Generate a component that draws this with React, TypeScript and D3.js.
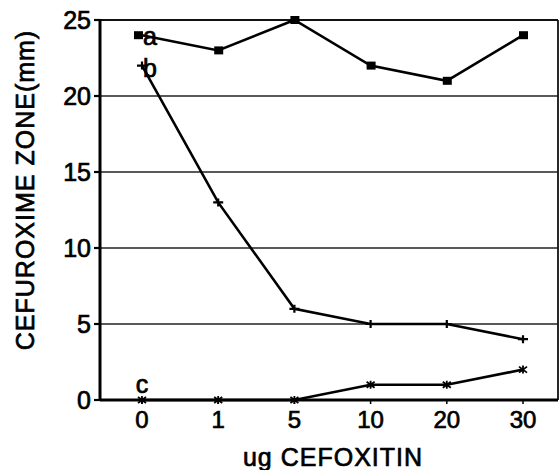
import * as d3 from 'd3'

const doses = ['0', '1', '5', '10', '20', '30']
const seriesA = [24, 23, 25, 22, 21, 24]
const seriesB = [22, 13, 6, 5, 5, 4]
const seriesC = [0, 0, 0, 1, 1, 2]
const yTicks = [0, 5, 10, 15, 20, 25]
const gridTicks = [5, 10, 15, 20]

const W = 560
const H = 470
const left = 100
const right = 558
const top = 20
const bottom = 400
const font = '"Liberation Sans", Arial, Helvetica, sans-serif'

// scanned print looks heavy, so text gets a thin outline
const ink = { fill: '#000', stroke: '#000', strokeWidth: 0.7 }

export default function App() {
    const x = d3.scalePoint<string>().domain(doses).range([142, 523])
    const y = d3.scaleLinear().domain([0, 25]).range([bottom, top])

    const line = d3
        .line<number>()
        .x((_, i) => x(doses[i]) as number)
        .y((d) => y(d))

    const px = (i: number) => x(doses[i]) as number

    return (
        <svg
            width={W}
            height={H}
            style={{ position: 'absolute', left: 0, top: 0, background: '#fff' }}
            fontFamily={font}
        >
            {/* grid lines */}
            {gridTicks.map((t) => (
                <line key={t} x1={left} x2={right} y1={y(t)} y2={y(t)} stroke="#222" strokeWidth={1.6} />
            ))}
            {/* frame */}
            <line x1={left} x2={right} y1={y(25)} y2={y(25)} stroke="#111" strokeWidth={2.2} />
            <line x1={right} x2={right} y1={top} y2={bottom} stroke="#111" strokeWidth={1.8} />
            <line x1={left} x2={right} y1={bottom} y2={bottom} stroke="#000" strokeWidth={3} />
            <line x1={left} x2={left} y1={top - 1} y2={bottom + 1} stroke="#000" strokeWidth={3} />

            {/* y ticks */}
            {yTicks.map((t) => (
                <g key={t}>
                    <line x1={left - 6} x2={left} y1={y(t)} y2={y(t)} stroke="#000" strokeWidth={2.2} />
                    <text x={left - 9} y={y(t) + 9} textAnchor="end" fontSize={25} {...ink}>
                        {t}
                    </text>
                </g>
            ))}
            {/* x ticks */}
            {doses.map((d) => (
                <g key={d}>
                    <line x1={x(d)} x2={x(d)} y1={bottom} y2={bottom + 4} stroke="#000" strokeWidth={1.5} />
                    <text x={x(d)} y={428} textAnchor="middle" fontSize={24} {...ink}>
                        {d}
                    </text>
                </g>
            ))}

            {/* axis titles */}
            <text x={333} y={466} textAnchor="middle" fontSize={25} letterSpacing={1} {...ink}>
                ug CEFOXITIN
            </text>
            <text
                transform={`translate(34, ${190}) rotate(-90)`}
                textAnchor="middle"
                fontSize={25}
                letterSpacing={1}
                {...ink}
            >
                CEFUROXIME ZONE(mm)
            </text>

            {/* series a: squares */}
            <path d={line(seriesA) || ''} fill="none" stroke="#000" strokeWidth={2.6} />
            {seriesA.map((v, i) => (
                <rect key={i} x={px(i) - (i === 0 ? 8 : 4)} y={y(v) - 4} width={9} height={8} fill="#000" />
            ))}

            {/* series b: plus marks */}
            <path d={line(seriesB) || ''} fill="none" stroke="#000" strokeWidth={2.6} />
            {seriesB.map((v, i) => (
                <path
                    key={i}
                    d={`M${px(i) - 5},${y(v)}h10M${px(i)},${y(v) - 4}v8`}
                    stroke="#000"
                    strokeWidth={2.2}
                />
            ))}

            {/* series c: asterisks */}
            <path d={line(seriesC) || ''} fill="none" stroke="#000" strokeWidth={2.6} />
            {seriesC.map((v, i) => (
                <path
                    key={i}
                    d={`M${px(i) - 4},${y(v) - 3}l8,6M${px(i) - 4},${y(v) + 3}l8,-6M${px(i)},${y(v) - 4}v8`}
                    stroke="#000"
                    strokeWidth={1.8}
                />
            ))}

            {/* series labels */}
            <text x={px(0) + 1} y={y(seriesA[0]) + 10} fontSize={25} {...ink}>
                a
            </text>
            <text x={px(0) + 1} y={y(seriesB[0]) + 11} fontSize={25} {...ink}>
                b
            </text>
            <text x={px(0)} y={y(seriesC[0]) - 7} textAnchor="middle" fontSize={25} {...ink}>
                c
            </text>
        </svg>
    )
}
